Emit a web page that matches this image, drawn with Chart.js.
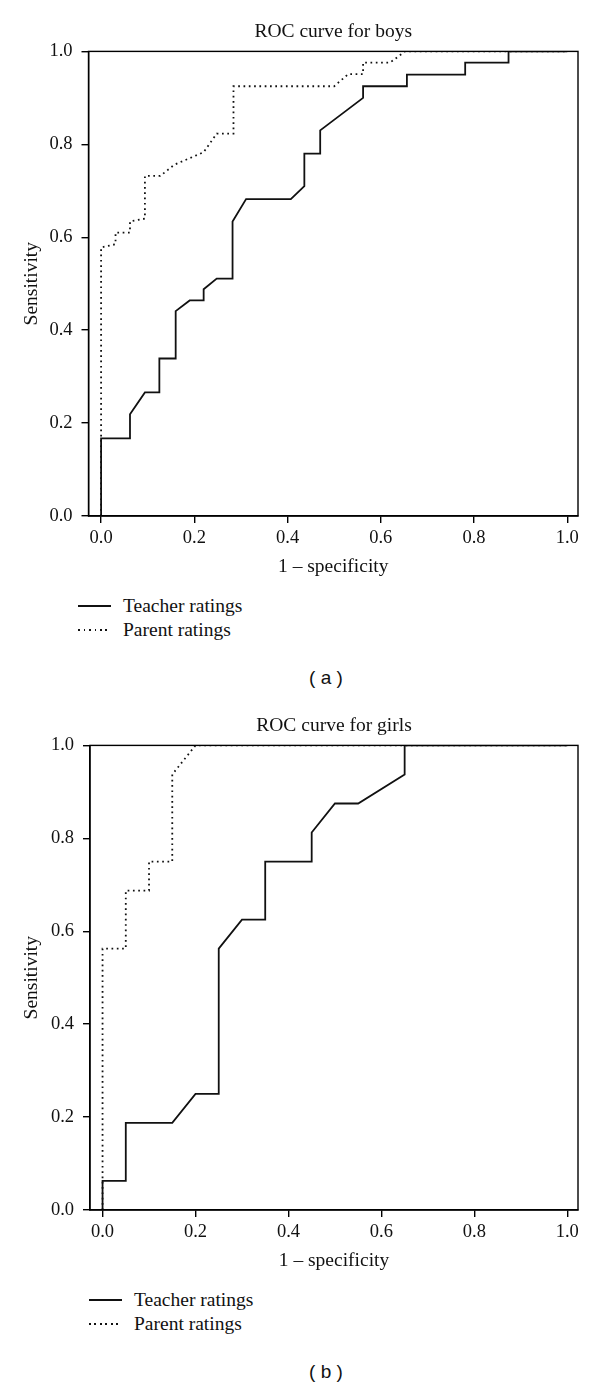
<!DOCTYPE html>
<html>
<head>
<meta charset="utf-8">
<script src="https://cdn.jsdelivr.net/npm/chart.js@4.4.1/dist/chart.umd.min.js"></script>
<style>
  body { margin: 0; background: #fff; width: 600px; }
  .panel { position: relative; width: 600px; height: 694px; }
  .panel canvas { position: absolute; left: 0; top: 0; }
  .legend { position: absolute; top: 594px; font: 19.5px "Liberation Serif", serif; color: #111; }
  .row { height: 24px; display: flex; align-items: center; }
  .swatch { width: 33px; height: 1.8px; margin-right: 12px; }
  .solid { background: #111; }
  .dotted { background: repeating-linear-gradient(to right, #111 0 1.6px, transparent 1.6px 5.5px); }
  .caption { position: absolute; top: 667px; left: 0; width: 652px; text-align: center;
             font: 19px "Liberation Sans", sans-serif; color: #111; }
</style>
</head>
<body>
<div class="panel">
  <canvas id="boys" width="600" height="590"></canvas>
  <div class="legend" style="left:78px">
    <div class="row"><span class="swatch solid"></span>Teacher ratings</div>
    <div class="row"><span class="swatch dotted"></span>Parent ratings</div>
  </div>
  <div class="caption">( a )</div>
</div>
<div class="panel">
  <canvas id="girls" width="600" height="590"></canvas>
  <div class="legend" style="left:89px">
    <div class="row"><span class="swatch solid"></span>Teacher ratings</div>
    <div class="row"><span class="swatch dotted"></span>Parent ratings</div>
  </div>
  <div class="caption">( b )</div>
</div>
<script>
const xTicks = [0, 0.2, 0.4, 0.6, 0.8, 1.0];
const yTicks = [0, 0.2, 0.4, 0.6, 0.8, 1.0];

// boys: 1 - specificity (x) and sensitivity (y)
const boysTeacherX = [0, 0, 0.062, 0.062, 0.094, 0.125, 0.125, 0.16, 0.16, 0.19, 0.22, 0.22, 0.248, 0.282, 0.282,
  0.311, 0.407, 0.436, 0.436, 0.47, 0.47, 0.562, 0.562, 0.656, 0.656, 0.781, 0.781, 0.874, 0.874, 1];
const boysTeacherY = [0, 0.167, 0.167, 0.219, 0.266, 0.266, 0.339, 0.339, 0.441, 0.464, 0.464, 0.488, 0.511, 0.511, 0.634,
  0.682, 0.682, 0.71, 0.78, 0.78, 0.83, 0.9, 0.925, 0.925, 0.95, 0.95, 0.976, 0.976, 1, 1];
const boysParentX = [0, 0, 0.031, 0.031, 0.062, 0.062, 0.094, 0.094, 0.127, 0.157, 0.22, 0.248, 0.284, 0.284,
  0.5, 0.53, 0.562, 0.562, 0.62, 0.652, 1];
const boysParentY = [0, 0.578, 0.585, 0.61, 0.61, 0.634, 0.64, 0.732, 0.732, 0.756, 0.783, 0.823, 0.823, 0.925,
  0.925, 0.951, 0.951, 0.976, 0.976, 1, 1];

// girls
const girlsTeacherX = [0, 0, 0.05, 0.05, 0.15, 0.2, 0.25, 0.25, 0.3, 0.35, 0.35, 0.45, 0.45, 0.5, 0.55, 0.65, 0.65, 1];
const girlsTeacherY = [0, 0.0625, 0.0625, 0.1875, 0.1875, 0.25, 0.25, 0.5625, 0.625, 0.625, 0.75, 0.75, 0.8125,
  0.875, 0.875, 0.9375, 1, 1];
const girlsParentX = [0, 0, 0.05, 0.05, 0.1, 0.1, 0.15, 0.15, 0.2, 1];
const girlsParentY = [0, 0.5625, 0.5625, 0.6875, 0.6875, 0.75, 0.75, 0.9375, 1, 1];

const serif = "'Liberation Serif', 'Times New Roman', serif";
const ink = "#111";

const framePlugin = {
  id: "frame",
  afterDatasetsDraw(chart) {
    const { ctx, chartArea: a } = chart;
    ctx.save();
    ctx.strokeStyle = "#000";
    ctx.lineWidth = 1.4;
    ctx.strokeRect(a.left, a.top, a.right - a.left, a.bottom - a.top);
    ctx.restore();
  },
};

function pts(xs, ys) {
  return xs.map((x, i) => ({ x: x, y: ys[i] }));
}

function makeChart(id, title, tx, ty, px, py, leftWidth) {
  new Chart(document.getElementById(id), {
    type: "scatter",
    data: {
      datasets: [
        {
          label: "Parent ratings",
          data: pts(px, py),
          showLine: true,
          borderColor: "#111",
          borderWidth: 1.8,
          borderDash: [1.7, 3.6],
          pointRadius: 0,
          fill: false,
        },
        {
          label: "Teacher ratings",
          data: pts(tx, ty),
          showLine: true,
          borderColor: "#111",
          borderWidth: 1.8,
          pointRadius: 0,
          fill: false,
        },
      ],
    },
    options: {
      responsive: false,
      animation: false,
      layout: { padding: { left: 0, right: 22, top: 0, bottom: 0 } },
      plugins: {
        legend: { display: false },
        tooltip: { enabled: false },
        title: {
          display: true,
          text: title,
          fullSize: false,
          color: ink,
          font: { family: serif, size: 19.5, weight: "normal" },
          padding: { top: 20, bottom: 8 },
        },
      },
      scales: {
        x: {
          type: "linear",
          min: -0.027,
          max: 1.023,
          afterBuildTicks: (s) => { s.ticks = xTicks.map((v) => ({ value: v })); },
          afterFit: (s) => { s.height = 74; },
          grid: { display: true, drawOnChartArea: false, drawTicks: true, tickLength: 7, color: "#000", lineWidth: 1.4 },
          border: { display: true, color: "#000", width: 1.4 },
          ticks: {
            padding: 4, color: ink, maxRotation: 0, autoSkip: false,
            font: { family: serif, size: 18.5 },
            callback: (v) => v.toFixed(1),
          },
          title: {
            display: true, text: "1 \u2013 specificity", color: ink,
            font: { family: serif, size: 19.5 },
            padding: { top: 0, bottom: 11 },
          },
        },
        y: {
          type: "linear",
          min: 0,
          max: 1,
          afterBuildTicks: (s) => { s.ticks = yTicks.map((v) => ({ value: v })); },
          afterFit: (s) => { s.width = leftWidth; },
          grid: { display: true, drawOnChartArea: false, drawTicks: true, tickLength: 7, color: "#000", lineWidth: 1.4 },
          border: { display: true, color: "#000", width: 1.4 },
          ticks: {
            padding: 9, color: ink, autoSkip: false,
            font: { family: serif, size: 18.5 },
            callback: (v) => v.toFixed(1),
          },
          title: {
            display: true, text: "Sensitivity", color: ink,
            font: { family: serif, size: 19.5 },
            padding: { top: 20, bottom: 0 },
          },
        },
      },
    },
    plugins: [framePlugin],
  });
}

makeChart("boys", "ROC curve for boys", boysTeacherX, boysTeacherY, boysParentX, boysParentY, 88.5);
makeChart("girls", "ROC curve for girls", girlsTeacherX, girlsTeacherY, girlsParentX, girlsParentY, 90);
</script>
</body>
</html>
